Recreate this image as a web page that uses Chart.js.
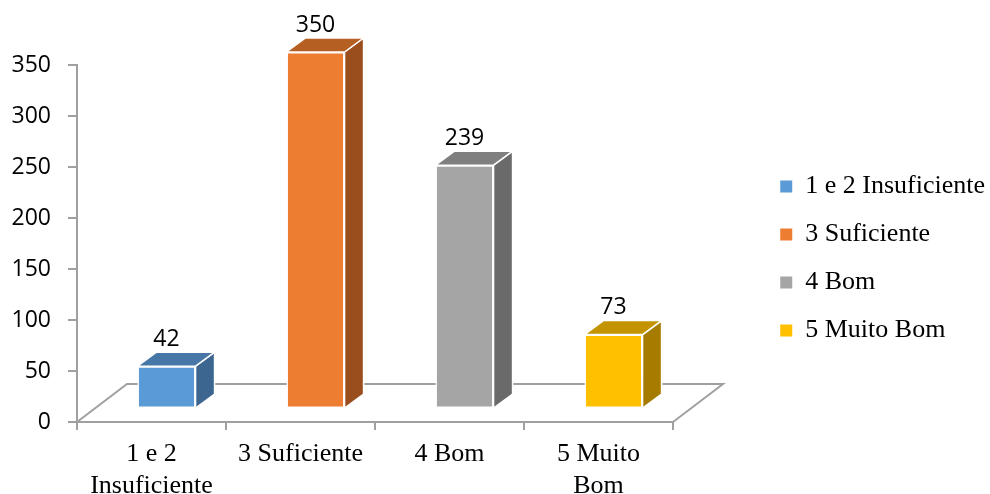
<!DOCTYPE html>
<html><head><meta charset="utf-8">
<script src="https://cdn.jsdelivr.net/npm/chart.js@4.4.1/dist/chart.umd.min.js"></script>
<style>html,body{margin:0;padding:0;background:#fff;}</style>
</head><body>
<canvas id="c" width="990" height="494"></canvas>
<script>
// ---- data ----
const categories = [["1 e 2", "Insuficiente"], "3 Suficiente", "4 Bom", ["5 Muito", "Bom"]];
const legendLabels = ["1 e 2 Insuficiente", "3 Suficiente", "4 Bom", "5 Muito Bom"];
const values = [42, 350, 239, 73];
const yTicks = [0, 50, 100, 150, 200, 250, 300, 350];

// ---- style ----
const frontColors = ["#5B9BD5", "#ED7D31", "#A5A5A5", "#FFC000"];
const topColors = ["#4677A6", "#B65F23", "#7F7F7F", "#C49300"];
const sideColors = ["#3C6690", "#9B4E1D", "#6A6A6A", "#A67C00"];
const AXIS_GRAY = "#A0A0A0";
const PLANE = {dx: 15, dy: -13};   // bar plane offset from front plane
const BOX = {dx: 19, dy: -14};     // depth of each bar
const FLOOR = {dx: 50, dy: -38};   // depth of the floor
const PLOT_RIGHT = 673;
const PAD_RIGHT = -5;

const threeD = {
  id: 'threeD',
  beforeDatasetsDraw(chart) {
    const {ctx, chartArea: a} = chart;
    ctx.save();
    ctx.strokeStyle = AXIS_GRAY; ctx.lineWidth = 2; ctx.lineJoin = 'miter';
    ctx.beginPath();
    ctx.moveTo(a.left, a.bottom);
    ctx.lineTo(a.left + FLOOR.dx, a.bottom + FLOOR.dy);
    ctx.lineTo(a.right + FLOOR.dx, a.bottom + FLOOR.dy);
    ctx.lineTo(a.right, a.bottom);
    ctx.stroke();
    ctx.restore();
    ctx.save();
    ctx.translate(PLANE.dx, PLANE.dy);
  },
  afterDatasetsDraw(chart) {
    const {ctx} = chart;
    const meta = chart.getDatasetMeta(0);
    meta.data.forEach((bar, i) => {
      const {x, y, base, width} = bar.getProps(['x', 'y', 'base', 'width'], true);
      const l = x - width / 2, r = x + width / 2;
      ctx.lineWidth = 1.5; ctx.strokeStyle = '#FFFFFF'; ctx.lineJoin = 'round';
      // side face
      ctx.beginPath();
      ctx.moveTo(r, y); ctx.lineTo(r + BOX.dx, y + BOX.dy);
      ctx.lineTo(r + BOX.dx, base + BOX.dy); ctx.lineTo(r, base); ctx.closePath();
      ctx.fillStyle = sideColors[i]; ctx.fill(); ctx.stroke();
      // top face
      ctx.beginPath();
      ctx.moveTo(l, y); ctx.lineTo(l + BOX.dx, y + BOX.dy);
      ctx.lineTo(r + BOX.dx, y + BOX.dy); ctx.lineTo(r, y); ctx.closePath();
      ctx.fillStyle = topColors[i]; ctx.fill(); ctx.stroke();
      // value label
      ctx.fillStyle = '#000';
      ctx.font = '23px "Open Sans"';
      ctx.textAlign = 'center'; ctx.textBaseline = 'middle';
      ctx.fillText(String(values[i]), x, y - 27);
    });
    ctx.restore();
  }
};

new Chart(document.getElementById('c'), {
  type: 'bar',
  data: {
    labels: categories,
    datasets: [{
      label: 'Total',
      data: values,
      backgroundColor: frontColors,
      borderColor: '#FFFFFF',
      borderWidth: 1.5,
      borderSkipped: false,
      categoryPercentage: 1,
      barPercentage: 0.39,
      clip: false
    }]
  },
  options: {
    responsive: false,
    animation: false,
    devicePixelRatio: 1,
    layout: {padding: {top: 23, right: PAD_RIGHT, bottom: 0, left: 0}},
    plugins: {
      tooltip: {enabled: false},
      legend: {
        position: 'right',
        maxWidth: 320,
        labels: {
          boxWidth: 12, boxHeight: 12, padding: 22, color: '#000',
          font: {family: '"Liberation Serif", "Times New Roman", serif', size: 26},
          generateLabels: () => legendLabels.map((t, i) => ({
            text: t, fillStyle: frontColors[i], strokeStyle: frontColors[i],
            lineWidth: 0, hidden: false, index: i, fontColor: '#000'
          }))
        }
      }
    },
    scales: {
      x: {
        type: 'category', offset: true,
        grid: {display: true, drawOnChartArea: false, drawTicks: true, tickLength: 8, color: AXIS_GRAY, lineWidth: 2, offset: true},
        border: {display: true, color: AXIS_GRAY, width: 2},
        ticks: {color: '#000', font: {family: '"Liberation Serif", "Times New Roman", serif', size: 26, lineHeight: 1.2}, padding: 9, maxRotation: 0, autoSkip: false},
        afterFit: s => { s.height = 72; }
      },
      y: {
        min: yTicks[0], max: yTicks[yTicks.length - 1],
        afterBuildTicks: s => { s.ticks = yTicks.map(v => ({value: v})); },
        grid: {display: true, drawOnChartArea: false, drawTicks: true, tickLength: 9, color: AXIS_GRAY, lineWidth: 2},
        border: {display: true, color: AXIS_GRAY, width: 2},
        ticks: {color: '#000', font: {family: '"Open Sans"', size: 23}, padding: 17},
        afterFit: s => { s.width = 77; }
      },
      xTop: {
        type: 'linear', axis: 'x', position: 'top', display: true,
        grid: {display: false}, border: {display: false}, ticks: {display: false},
        afterFit: s => { s.height = 42; }
      },
      yRight: {
        type: 'linear', axis: 'y', position: 'right', display: true,
        grid: {display: false}, border: {display: false}, ticks: {display: false},
        afterFit: s => {
          const c = s.chart;
          const legendLeft = c.width - PAD_RIGHT - c.legend.width;
          s.width = Math.max(0, legendLeft - PLOT_RIGHT);
        }
      }
    }
  },
  plugins: [threeD]
});
</script>
</body></html>
